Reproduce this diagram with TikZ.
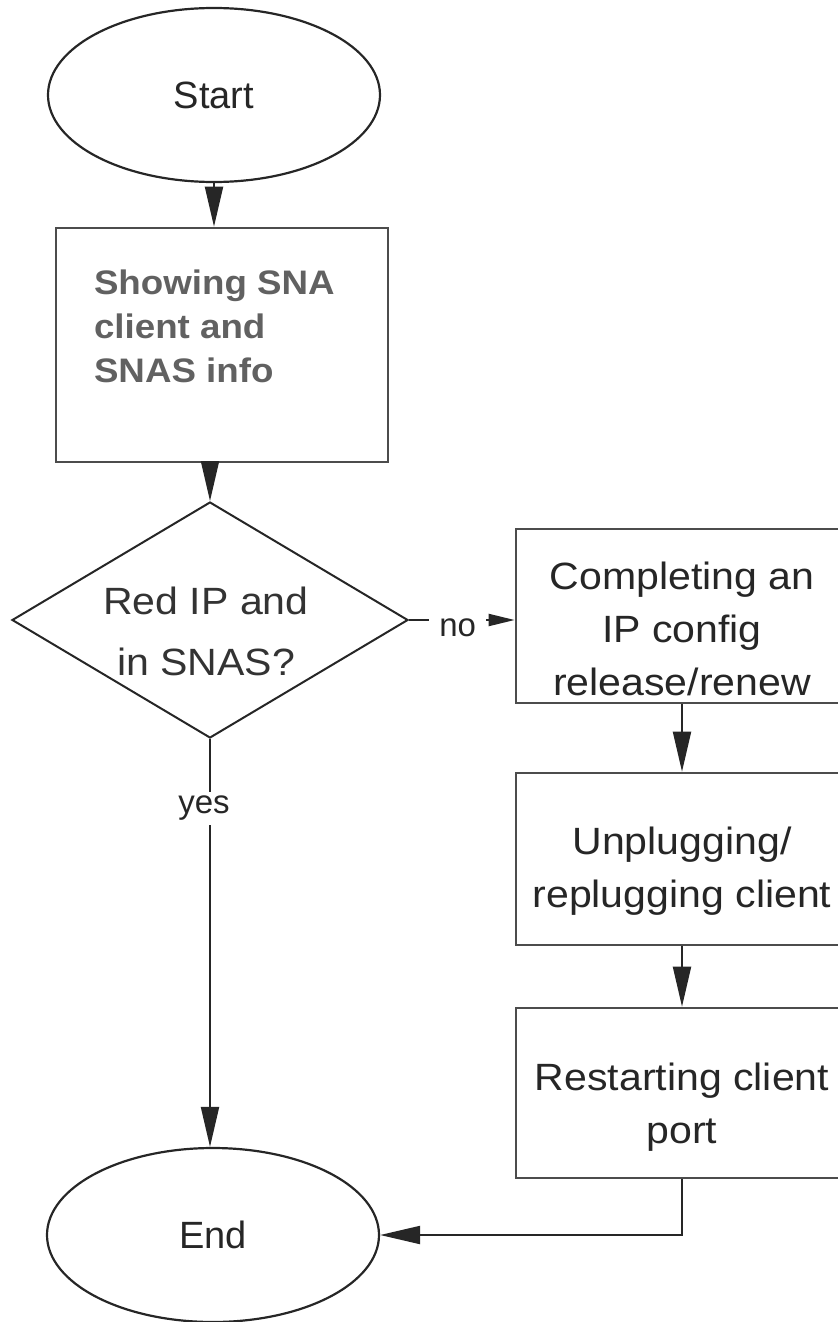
\documentclass[tikz,border=0pt]{standalone}
\usepackage{fontspec}
\setmainfont{Liberation Sans}
\newfontfamily\boxfont{Liberation Sans}[FakeStretch=1.08]
\usetikzlibrary{shapes.geometric,arrows.meta}

\begin{document}
\begin{tikzpicture}[x=0.5pt,y=-0.5pt,line width=1pt,
    flow/.style={draw=black!85,-{Triangle[length=20pt,width=9pt]}},
    term/.style={ellipse,draw=black!85,line width=1.1pt,inner sep=0pt,
        minimum width=166pt,minimum height=87pt,text=black!85,
        font=\fontsize{19}{23}\selectfont},
    stepbox/.style={rectangle,draw=black!70,line width=1.3pt,inner sep=0pt,
        minimum width=166pt,align=center,text=black!85,
        font=\boxfont\fontsize{19}{26.5}\selectfont},
    decision/.style={diamond,draw=black!85,line width=1pt,inner sep=0pt,
        minimum width=198pt,minimum height=118pt},
    tag/.style={fill=white,inner xsep=5pt,inner ysep=2pt,text=black!85,
        font=\fontsize{16.5}{18}\selectfont}]
        \useasboundingbox (0,0) rectangle (838,1322);
        \clip (0,0) rectangle (838,1322);
        \node[term] (start) at (214,95) {Start};
        \node[stepbox,minimum height=117pt] (show) at (222,345) {};
        \node[anchor=north west,inner sep=0pt,align=left,text=black!62,
            font=\boxfont\bfseries\fontsize{17}{22}\selectfont] (showtext) at (93,269)
            {Showing SNA\\client and\\SNAS info};
        \node[decision] (dec) at (210,620) {};
        \node[align=center,inner sep=0pt,text=black!80,
            font=\boxfont\fontsize{19}{30.5}\selectfont] (dectext) at (206,631)
            {Red IP and\\in SNAS?};
        \node[stepbox,minimum height=87pt,text height=80pt] (renew) at (682,616) {Completing an\\IP config\\release/renew};
        \node[stepbox,minimum height=86pt,text height=52pt] (unplug) at (682,859) {Unplugging/\\replugging client};
        \node[stepbox,minimum height=85pt,text height=54pt] (restart) at (682,1093) {Restarting client\\port};
        \node[term] (stop) at (213,1235) {End};
        \draw[flow] (start.south) -- (start.south |- show.north);
        \draw[flow] (dec.north |- show.south) -- (dec.north);
        \draw[draw=black!85,-{Triangle[length=13pt,width=6pt]}] (dec.east) -- node[tag,pos=0.46,yshift=-4pt] {no} (dec.east -| renew.west);
        \draw[flow] (dec.south) -- node[tag,pos=0.17,xshift=-3pt] {yes} (dec.south |- stop.north);
        \draw[flow] (renew.south) -- (unplug.north);
        \draw[flow] (unplug.south) -- (restart.north);
        \draw[flow] (restart.south) |- (stop.east);
\end{tikzpicture}
\end{document}
